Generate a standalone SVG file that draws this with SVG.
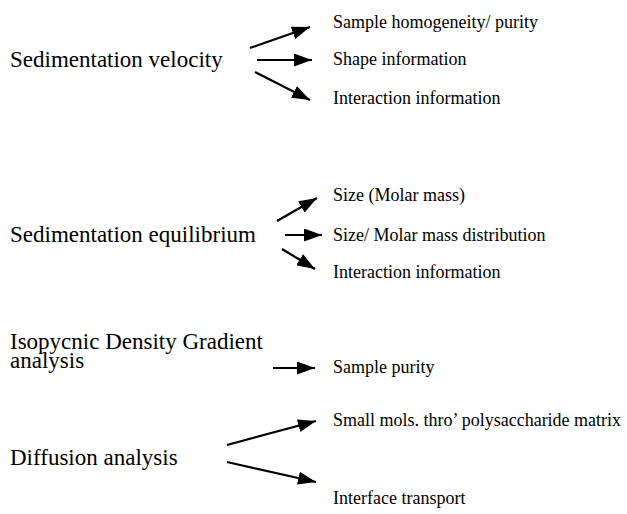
<svg xmlns="http://www.w3.org/2000/svg" width="627" height="514" viewBox="0 0 627 514">
<style>
.big{font-family:"Liberation Serif","Times New Roman",serif;font-size:23px;fill:#000}
.sm{font-family:"Liberation Serif","Times New Roman",serif;font-size:18px;fill:#000}
.con line{stroke:#000;stroke-width:2.2;marker-end:url(#ah)}
</style>
<defs>
<marker id="ah" viewBox="0 0 18 13" refX="18" refY="6.5" markerWidth="18" markerHeight="13" markerUnits="userSpaceOnUse" orient="auto">
<path d="M0,0 L18,6.5 L0,13 Z" fill="#000"/>
</marker>
</defs>
<g id="sv"><text class="big" x="10" y="67">Sedimentation velocity</text></g>
<g id="sv1"><text class="sm" x="333" y="28">Sample homogeneity/ purity</text></g>
<g id="sv2"><text class="sm" x="333" y="65">Shape information</text></g>
<g id="sv3"><text class="sm" x="333" y="104">Interaction information</text></g>
<g id="se"><text class="big" x="10" y="242">Sedimentation equilibrium</text></g>
<g id="se1"><text class="sm" x="333" y="201">Size (Molar mass)</text></g>
<g id="se2"><text class="sm" x="333" y="241">Size/ Molar mass distribution</text></g>
<g id="se3"><text class="sm" x="333" y="278">Interaction information</text></g>
<g id="idg"><text class="big" x="10" y="349">Isopycnic Density Gradient</text><text class="big" x="10" y="368">analysis</text></g>
<g id="idg1"><text class="sm" x="333" y="373">Sample purity</text></g>
<g id="da"><text class="big" x="10" y="465">Diffusion analysis</text></g>
<g id="da1"><text class="sm" x="333" y="426">Small mols. thro’ polysaccharide matrix</text></g>
<g id="da2"><text class="sm" x="333" y="504">Interface transport</text></g>
<g id="connectors" class="con">
<line x1="250" y1="48" x2="310" y2="27"/>
<line x1="257" y1="60" x2="312" y2="60"/>
<line x1="255" y1="72" x2="310" y2="100"/>
<line x1="277" y1="221" x2="317" y2="198"/>
<line x1="285" y1="235" x2="322" y2="235"/>
<line x1="282" y1="249" x2="315" y2="269"/>
<line x1="273" y1="368" x2="315" y2="368"/>
<line x1="227" y1="445" x2="316" y2="421"/>
<line x1="227" y1="462" x2="316" y2="482"/>
</g>
</svg>
